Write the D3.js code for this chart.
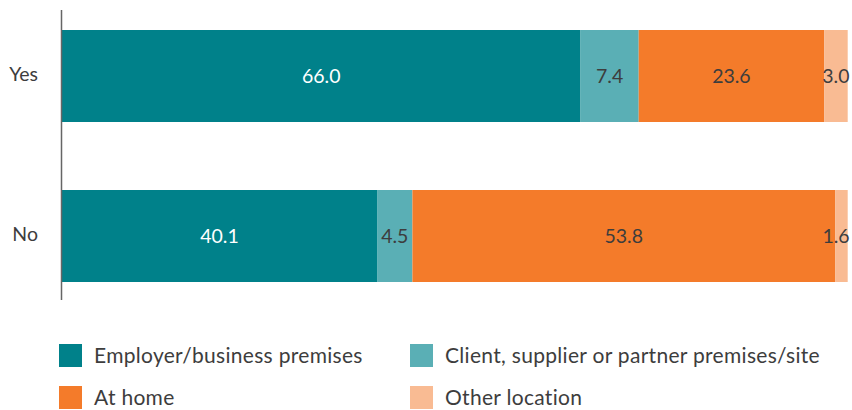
<!DOCTYPE html>
<html><head><meta charset="utf-8">
<script src="https://cdn.jsdelivr.net/npm/d3@7"></script>
<style>body{margin:0;background:#fff}svg{display:block}text{font-family:Lato,"Open Sans",sans-serif}</style>
</head><body><svg width="852" height="410"></svg>
<script>
const categories = ["Yes", "No"];
const seriesNames = ["Employer/business premises", "Client, supplier or partner premises/site", "At home", "Other location"];
const employer = [66.0, 40.1];
const client = [7.4, 4.5];
const home = [23.6, 53.8];
const other = [3.0, 1.6];
const colors = ["#00818a", "#5aafb5", "#f47b2a", "#f9bb93"];
const labelColors = ["#ffffff", "#3d3d3d", "#3d3d3d", "#3d3d3d"];

const svg = d3.select("svg");
const rows = categories.map((c, i) => ({cat: c, employer: employer[i], client: client[i], home: home[i], other: other[i]}));
const keys = ["employer", "client", "home", "other"];
const stack = d3.stack().keys(keys)(rows);

const x = d3.scaleLinear().domain([0, 100]).range([62, 847.7]);
const y = d3.scaleBand().domain(categories).range([10, 302]).paddingInner(0.425).paddingOuter(0.125);

stack.forEach((s, k) => {
  svg.append("g").selectAll("rect").data(s).join("rect")
    .attr("x", d => x(d[0])).attr("width", d => x(d[1]) - x(d[0]))
    .attr("y", d => y(d.data.cat)).attr("height", y.bandwidth())
    .attr("fill", colors[k]);
});
stack.forEach((s, k) => {
  svg.append("g").selectAll("text").data(s).join("text")
    .attr("x", d => Math.min((x(d[0]) + x(d[1])) / 2, 836))
    .attr("y", d => y(d.data.cat) + y.bandwidth() / 2)
    .attr("dy", "0.35em").attr("text-anchor", "middle")
    .attr("font-size", 19.5).attr("fill", labelColors[k])
    .text(d => (d[1] - d[0]).toFixed(1));
});

svg.append("line").attr("x1", 61.5).attr("x2", 61.5).attr("y1", 10).attr("y2", 300)
  .attr("stroke", "#666").attr("stroke-width", 1.5);

svg.append("g").selectAll("text").data(categories).join("text")
  .attr("x", 38).attr("y", d => y(d) + y.bandwidth() / 2 - 2).attr("dy", "0.35em")
  .attr("text-anchor", "end").attr("font-size", 19.5).attr("fill", "#3d3d3d").text(d => d);

const legPos = [[59, 344], [410, 344], [59, 386], [410, 386]];
const leg = svg.append("g").selectAll("g").data(seriesNames).join("g")
  .attr("transform", (d, i) => `translate(${legPos[i][0]},${legPos[i][1]})`);
leg.append("rect").attr("width", 23).attr("height", 23).attr("fill", (d, i) => colors[i]);
leg.append("text").attr("x", 35).attr("y", 12).attr("dy", "0.35em")
  .attr("font-size", 21).attr("letter-spacing", 0.3).attr("fill", "#3d3d3d").text(d => d);
</script></body></html>
